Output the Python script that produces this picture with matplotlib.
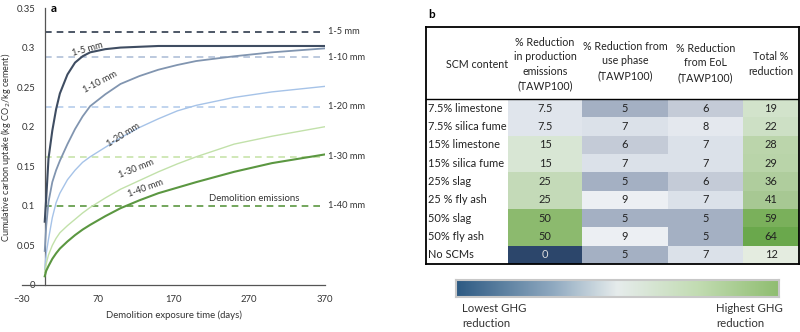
import numpy as np
import matplotlib
matplotlib.use("Agg")
import matplotlib.pyplot as plt
from matplotlib.colors import LinearSegmentedColormap, Normalize

plt.rcParams['font.family'] = ['Lato', 'DejaVu Sans']

# ---------------- data: panel a ----------------
days = [0, 2, 5, 10, 15, 20, 30, 40, 50, 60, 80, 100, 125, 150, 175, 200, 250, 300, 370]
uptake_5 = [0.080, 0.110, 0.160, 0.195, 0.222, 0.242, 0.266, 0.281, 0.289, 0.294, 0.298, 0.300, 0.301, 0.302, 0.302, 0.302, 0.302, 0.302, 0.302]
uptake_10 = [0.043, 0.075, 0.105, 0.130, 0.145, 0.157, 0.178, 0.197, 0.213, 0.226, 0.241, 0.254, 0.264, 0.272, 0.278, 0.283, 0.289, 0.294, 0.299]
uptake_20 = [0.020, 0.040, 0.058, 0.085, 0.104, 0.116, 0.133, 0.145, 0.155, 0.162, 0.174, 0.186, 0.199, 0.210, 0.220, 0.227, 0.237, 0.244, 0.251]
uptake_30 = [0.016, 0.027, 0.038, 0.050, 0.059, 0.066, 0.075, 0.083, 0.091, 0.098, 0.110, 0.121, 0.132, 0.143, 0.153, 0.162, 0.178, 0.188, 0.200]
uptake_40 = [0.011, 0.018, 0.024, 0.033, 0.040, 0.046, 0.055, 0.063, 0.070, 0.076, 0.087, 0.097, 0.107, 0.116, 0.123, 0.130, 0.143, 0.154, 0.165]
size_labels = ['1-5 mm', '1-10 mm', '1-20 mm', '1-30 mm', '1-40 mm']
demolition_emissions = [0.320, 0.288, 0.225, 0.162, 0.100]
xticks = [-30, 70, 170, 270, 370]
yticks = [0, 0.05, 0.1, 0.15, 0.2, 0.25, 0.3, 0.35]
ytick_labels = ['0', '0.05', '0.1', '0.15', '0.2', '0.25', '0.3', '0.35']

# inline label anchor (day, value, rotation)
inline_days = [57, 73, 104, 121, 133]
inline_vals = [0.298, 0.256, 0.1895, 0.1466, 0.122]
inline_rot = [16, 28, 32, 22, 20]

# ---------------- data: panel b ----------------
scm = ['7.5% limestone', '7.5% silica fume', '15% limestone', '15% silica fume',
       '25% slag', '25 % fly ash', '50% slag', '50% fly ash', 'No SCMs']
production = [7.5, 7.5, 15, 15, 25, 25, 50, 50, 0]
use_phase = [5, 7, 6, 7, 5, 9, 5, 9, 5]
eol = [6, 8, 7, 7, 6, 7, 5, 5, 7]
total = [19, 22, 28, 29, 36, 41, 59, 64, 12]
headers = ['SCM content', '% Reduction\nin production\nemissions\n(TAWP100)',
           '% Reduction from\nuse phase\n(TAWP100)', '% Reduction\nfrom EoL\n(TAWP100)',
           'Total %\nreduction']

# ---------------- styles ----------------
curve_colors = ['#3f4d62', '#8195b0', '#a6c3e8', '#c2e1aa', '#5b9741']
dash_colors = ['#2f3b4d', '#b0c0d8', '#b6cdeb', '#c8e4ab', '#5b9741']
curve_lw = [1.5, 1.3, 1.0, 1.0, 1.5]

fig = plt.figure(figsize=(8, 3.32), dpi=100)

# ---------------- panel a ----------------
ax = fig.add_axes([22/800, 47/332, 303/800, 277/332])
series = [uptake_5, uptake_10, uptake_20, uptake_30, uptake_40]
for i, s in enumerate(series):
    ax.plot(days, s, color=curve_colors[i], lw=curve_lw[i], zorder=3)
for i, v in enumerate(demolition_emissions):
    ax.plot([0, 370], [v, v], color=dash_colors[i], lw=1.2, ls=(0, (4, 3)), zorder=2)
    ax.text(374, v, size_labels[i], fontsize=6.7, va='center', ha='left', color='#333333', clip_on=False)
for i in range(5):
    ax.text(inline_days[i], inline_vals[i], size_labels[i], fontsize=6.7, rotation=inline_rot[i],
            ha='center', va='center', color='#333333', rotation_mode='anchor')
ax.text(276, 0.1087, 'Demolition emissions', fontsize=6.9, ha='center', va='center', color='#333333')

ax.set_xlim(-30, 370)
ax.set_ylim(0, 0.35)
ax.spines['left'].set_position(('data', 0))
ax.spines['top'].set_visible(False)
ax.spines['right'].set_visible(False)
for sp in ['left', 'bottom']:
    ax.spines[sp].set_color('#555555')
    ax.spines[sp].set_linewidth(0.9)
ax.set_xticks(xticks)
ax.set_yticks(yticks)
ax.set_yticklabels(ytick_labels)
ax.tick_params(length=0, labelsize=6.8, colors='#333333')
ax.tick_params(axis='y', pad=7)
ax.tick_params(axis='x', pad=7)
ax.set_xlabel('Demolition exposure time (days)', fontsize=6.9, color='#333333', labelpad=5)
ax.set_ylabel('Cumulative carbon uptake (kg CO$_2$/kg cement)', fontsize=6.6, color='#333333')
ax.yaxis.set_label_coords(-0.030, 0.496)
fig.text(51/800, 1 - 8/332, 'a', fontsize=8.5, fontweight='bold', va='center', ha='left')

# ---------------- panel b ----------------
cmap = LinearSegmentedColormap.from_list('ghg', [
    (0.0, '#2c466b'), (5/64, '#a3afc3'), (6/64, '#c3cad7'), (7/64, '#dbe1e9'),
    (9/64, '#eceff3'), (12/64, '#e4ece0'), (15/64, '#d8e6d4'), (22/64, '#cde0c5'),
    (28/64, '#bbd5ab'), (36/64, '#afcd9d'), (41/64, '#a7c894'), (50/64, '#8cba6e'),
    (59/64, '#7bb05c'), (1.0, '#6aa84c')])
norm = Normalize(0, 64)

tw, th = 373, 237
tax = fig.add_axes([426/800, (332-264)/332, tw/800, th/332])
col_edges = np.array([0, 82, 156, 242, 317, 373])
header_h = 72
row_h = (th - header_h) / len(scm)
row_edges = header_h + row_h * np.arange(len(scm) + 1)
vals = np.column_stack([production, use_phase, eol, total])
tax.pcolormesh(col_edges[1:], row_edges, vals, cmap=cmap, norm=norm, shading='flat')
tax.set_xlim(0, tw)
tax.set_ylim(th, 0)
tax.set_xticks([])
tax.set_yticks([])
for sp in tax.spines.values():
    sp.set_linewidth(1.3)
    sp.set_color('black')
tax.axhline(header_h, color='black', lw=1.0)
centers = (col_edges[:-1] + col_edges[1:]) / 2
for r, name in enumerate(scm):
    yc = (row_edges[r] + row_edges[r+1]) / 2
    tax.text(2, yc, name, fontsize=7.9, va='center', ha='left', color='#222222')
    for c in range(4):
        v = vals[r, c]
        s = ('%g' % v)
        tax.text(centers[c+1], yc, s, fontsize=7.9, va='center', ha='center',
                 color='#dddddd' if v == 0 else '#222222')
header_dy = [0, 0, -3, -1, 0]
for c, h in enumerate(headers):
    tax.text(centers[c] + (10 if c == 0 else 0), header_h/2 + 1 + header_dy[c], h, fontsize=7.7,
             va='center', ha='center', color='#222222', linespacing=1.38)
fig.text(428/800, 1 - 15/332, 'b', fontsize=8.5, fontweight='bold', va='center', ha='left')

# colour bar
cbax = fig.add_axes([456/800, (332-297)/332, 323/800, 17/332])
bar_cmap = LinearSegmentedColormap.from_list('bar', [(0, '#2d5a83'), (0.3, '#8fa9c0'), (0.5, '#e6ecec'),
                                                      (0.75, '#c2dcb2'), (1.0, '#8fbd70')])
cbax.imshow(np.linspace(0, 1, 256)[None, :], aspect='auto', cmap=bar_cmap)
cbax.set_xticks([])
cbax.set_yticks([])
for sp in cbax.spines.values():
    sp.set_color('#c8c8c8')
    sp.set_linewidth(1.5)
fig.text(462/800, 1 - 316/332, 'Lowest GHG\nreduction', fontsize=8.2, va='center', ha='left',
         color='#333333', linespacing=1.4)
fig.text(716/800, 1 - 316/332, 'Highest GHG\nreduction', fontsize=8.2, va='center', ha='left',
         color='#333333', linespacing=1.4)

fig.savefig('out.png', dpi=100)
